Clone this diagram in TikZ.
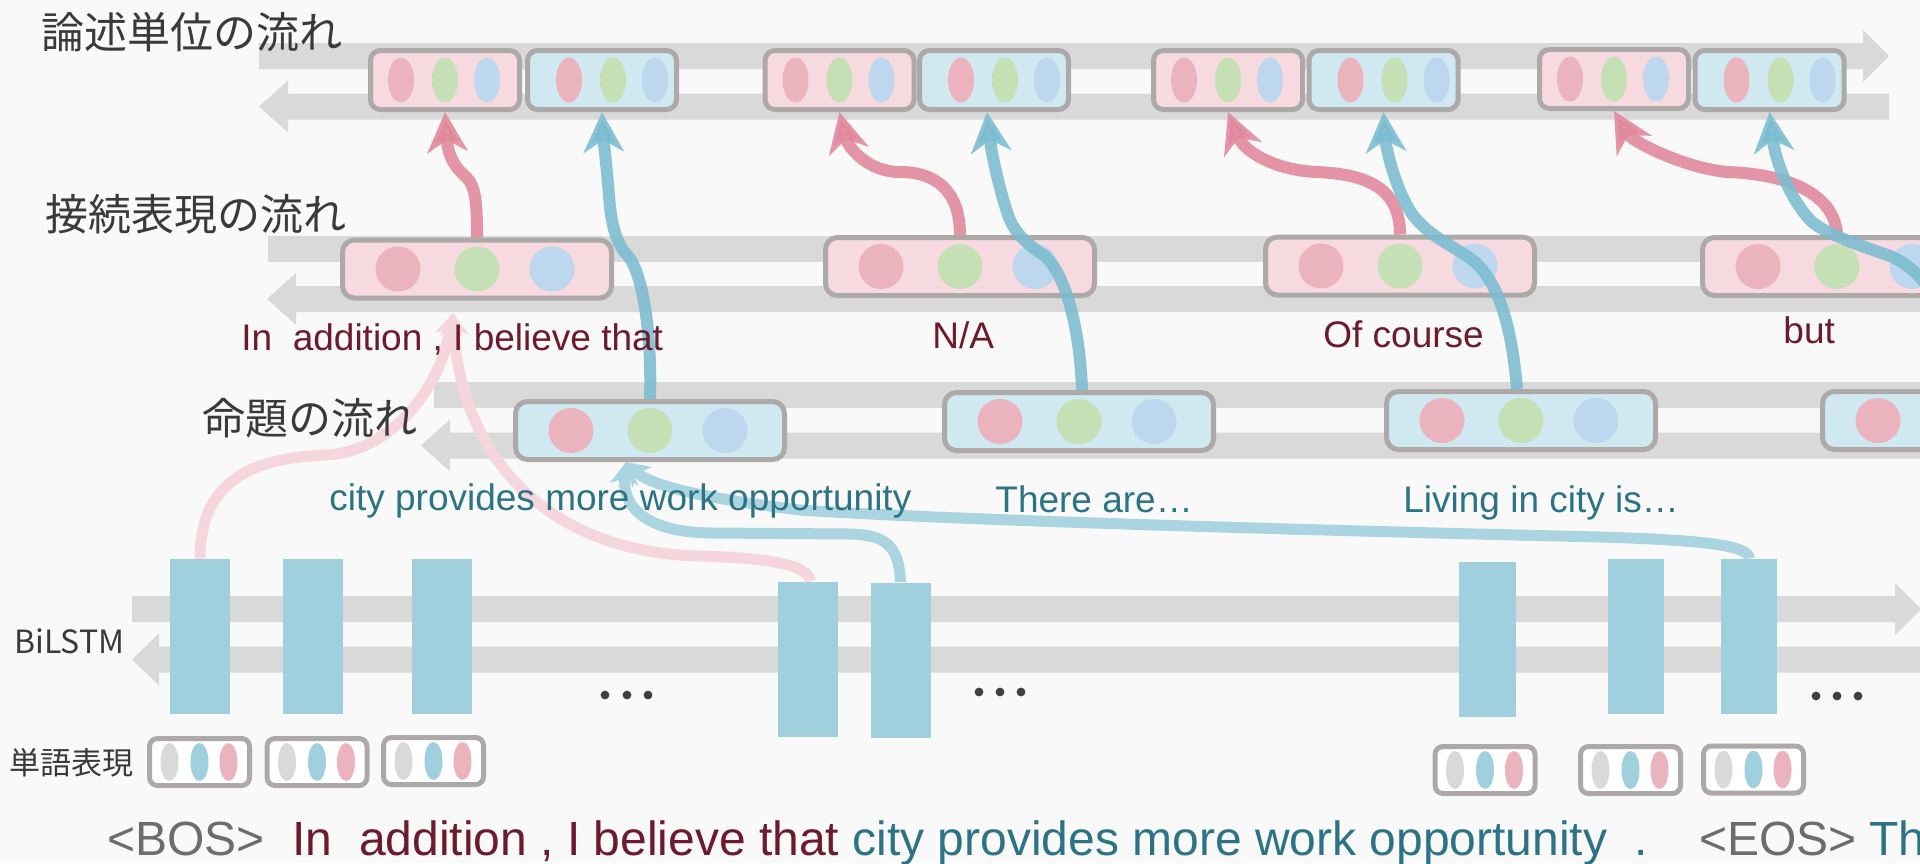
\documentclass[tikz,border=0pt]{standalone}
\usepackage{fontspec}
\setmainfont{Liberation Sans}
\newfontfamily\jpfont{Noto Sans CJK JP}
\usetikzlibrary{arrows.meta,shapes.geometric,calc}

\definecolor{bgc}{RGB}{249,249,249}
\definecolor{band}{RGB}{217,217,217}
\definecolor{bord}{RGB}{173,169,169}
\definecolor{boxpink}{RGB}{246,218,223}
\definecolor{boxblue}{RGB}{208,232,239}
\definecolor{elpink}{RGB}{235,179,190}
\definecolor{elgreen}{RGB}{197,224,180}
\definecolor{elblue}{RGB}{189,215,238}
\definecolor{elgrey}{RGB}{217,217,217}
\definecolor{elteal}{RGB}{160,208,222}
\definecolor{lstm}{RGB}{160,208,222}
\definecolor{arpink}{RGB}{224,136,156}
\definecolor{arblue}{RGB}{122,188,208}
\definecolor{lipink}{RGB}{246,214,221}
\definecolor{liblue}{RGB}{170,213,224}
\definecolor{txred}{RGB}{108,26,44}
\definecolor{txteal}{RGB}{44,116,133}
\definecolor{txgrey}{RGB}{112,108,108}
\definecolor{txdark}{RGB}{58,58,58}
\definecolor{dotc}{RGB}{64,64,64}

\tikzset{
  tbox/.style={draw=bord, line width=2.5pt, rounded corners=5pt, minimum width=74.5pt, minimum height=29.5pt, inner sep=0pt},
  midb/.style={draw=bord, line width=2.5pt, rounded corners=6pt, minimum width=134.5pt, minimum height=29pt, inner sep=0pt},
  wbox/.style={draw=bord, line width=2.5pt, rounded corners=4pt, fill=white, minimum width=50pt, minimum height=23.5pt, inner sep=0pt},
  tell/.style={ellipse, draw=none, inner sep=0pt, minimum width=13pt, minimum height=22.5pt},
  mcirc/.style={ellipse, draw=none, inner sep=0pt, minimum width=22.5pt, minimum height=22.5pt},
  well/.style={ellipse, draw=none, inner sep=0pt, minimum width=9pt, minimum height=19pt},
  lstmblock/.style={fill=lstm, draw=none, inner sep=0pt, minimum height=77.5pt},
  darrow/.style={line width=6pt, opacity=0.88, -{Stealth[length=20pt,width=20pt,inset=6pt]}},
  larrow/.style={line width=5.5pt, -{Stealth[length=11pt,width=14pt,inset=3pt]}},
  lab/.style={inner sep=0pt, anchor=base west, font=\fontsize{18.5}{22}\selectfont},
  ttl/.style={inner sep=0pt, anchor=west, text=txdark, font=\jpfont\fontsize{21.5}{26}\selectfont},
  big/.style={inner sep=0pt, anchor=base west, font=\fontsize{24}{28}\selectfont},
}

\newcommand\fwdband[4]{\fill[band] (#1,#4-13) -- (#2,#4-13) -- (#2,#4-26) -- (#3,#4) -- (#2,#4+26) -- (#2,#4+13) -- (#1,#4+13) -- cycle;}
\newcommand\backband[4]{\fill[band] (#3,#4-13) -- (#2,#4-13) -- (#2,#4-26) -- (#1,#4) -- (#2,#4+26) -- (#2,#4+13) -- (#3,#4+13) -- cycle;}
\newcommand\plainband[3]{\fill[band] (#1,#3-13) rectangle (#2,#3+13);}

\newcommand\tpink[3]{\node[tbox, fill=boxpink] (#1) at (#2,#3) {};
  \node[tell, fill=elpink] (#1-a) at (#2-44,#3) {};
  \node[tell, fill=elgreen] (#1-b) at (#2,#3) {};
  \node[tell, fill=elblue] (#1-c) at (#2+42,#3) {};}
\newcommand\tblue[3]{\node[tbox, fill=boxblue] (#1) at (#2,#3) {};
  \node[tell, fill=elpink] (#1-a) at (#2-33,#3) {};
  \node[tell, fill=elgreen] (#1-b) at (#2+11,#3) {};
  \node[tell, fill=elblue] (#1-c) at (#2+53,#3) {};}
\newcommand\midbox[4]{\node[midb, fill=#4] (#1) at (#2,#3) {};
  \node[mcirc, fill=elpink] (#1-a) at (#2-79,#3) {};
  \node[mcirc, fill=elgreen] (#1-b) at (#2,#3) {};
  \node[mcirc, fill=elblue] (#1-c) at (#2+75,#3) {};}
\newcommand\wordbox[3]{\node[wbox] (#1) at (#2,#3) {};
  \node[well, fill=elgrey] (#1-a) at (#2-30,#3) {};
  \node[well, fill=elteal] (#1-b) at (#2,#3) {};
  \node[well, fill=elpink] (#1-c) at (#2+29,#3) {};}

\begin{document}
\begin{tikzpicture}[x=0.5pt, y=-0.5pt]
\useasboundingbox (0,0) rectangle (1920,863);
\fill[bgc] (0,0) rectangle (1920,863);
\clip (0,0) rectangle (1920,863);

% ---- grey flow bands ----
\fwdband{259}{1863}{1889}{56}
\backband{259}{288}{1889}{106.5}
\plainband{268}{2000}{248.5}
\backband{267}{296}{2000}{299}
\plainband{434}{2000}{395}
\backband{421}{450}{2000}{445.5}
\fwdband{132}{1895}{1921}{609}
\backband{132}{159}{2000}{659.5}

% ---- BiLSTM blocks ----
\node[lstmblock, minimum width=30pt] (b1) at (200,636.5) {};
\node[lstmblock, minimum width=30pt] (b2) at (312.5,636.5) {};
\node[lstmblock, minimum width=30pt] (b3) at (441.5,636.5) {};
\node[lstmblock, minimum width=30pt] (b4) at (807.5,659) {};
\node[lstmblock, minimum width=30pt] (b5) at (900.5,660) {};
\node[lstmblock, minimum width=28.5pt] (b6) at (1487.5,639.5) {};
\node[lstmblock, minimum width=28pt] (b7) at (1636,636.5) {};
\node[lstmblock, minimum width=28pt] (b8) at (1749,636.5) {};

% ---- dots ----
\foreach \x in {605,627,648}{\fill[dotc] (\x,695) circle[radius=2.2pt];}
\foreach \x in {979,1000,1021}{\fill[dotc] (\x,692) circle[radius=2.2pt];}
\foreach \x in {1816,1837,1858}{\fill[dotc] (\x,696) circle[radius=2.2pt];}

% ---- word representation boxes ----
\wordbox{w1}{199.5}{762}
\wordbox{w2}{317}{762}
\wordbox{w3}{433.5}{761}
\wordbox{w4}{1485}{770}
\wordbox{w5}{1630.5}{770}
\wordbox{w6}{1753.5}{769.5}

% ---- top row boxes ----
\tpink{t1p}{445}{80}
\tblue{t1b}{602}{80}
\tpink{t2p}{839.5}{80}
\tblue{t2b}{994}{80}
\tpink{t3p}{1228}{80}
\tblue{t3b}{1383.5}{80}
\tpink{t4p}{1614}{79}
\tblue{t4b}{1769.5}{80}

% ---- connective row ----
\midbox{c1}{477}{269}{boxpink}
\midbox{c2}{960}{266.5}{boxpink}
\midbox{c3}{1400}{266}{boxpink}
\midbox{c4}{1837}{266.5}{boxpink}

% ---- proposition row ----
\midbox{p1}{650}{430.5}{boxblue}
\midbox{p2}{1079}{421.5}{boxblue}
\midbox{p3}{1521}{420.5}{boxblue}
\midbox{p4}{1957}{420.5}{boxblue}

% ---- light connectors from BiLSTM ----
\coordinate (cin) at (453,313);
\coordinate (pin) at (626,462);
\draw[larrow, lipink] (b1.north) .. controls (200,490) and (240,458) .. (326,455) .. controls (390,452) and (440,390) .. (cin);
\draw[larrow, lipink] ($(b4.north)+(3,0)$) .. controls (808,565) and (770,558) .. (700,556) .. controls (540,552) and (460,450) .. (cin);
\draw[larrow, liblue] (b5.north) .. controls (899,545) and (885,535) .. (850,534) -- (710,533) .. controls (650,532) and (622,510) .. (pin);
\draw[larrow, liblue] (b8.north) .. controls (1750,545) and (1700,540) .. (1600,537) .. controls (1300,530) and (950,520) .. (800,510) .. controls (700,498) and (650,485) .. (pin);

% ---- dark connectors to top row ----
\draw[darrow, arpink] (c1.north) .. controls (477,205) and (476,186) .. (466,177) .. controls (456,168) and (448,158) .. (t1p.south);
\draw[darrow, arblue] (p1.north) .. controls (652,330) and (642,272) .. (628,256) .. controls (618,246) and (611,228) .. (609,195) .. controls (606,160) and (603,135) .. (t1b.south);
\draw[darrow, arpink] (c2.north) .. controls (960,190) and (935,172) .. (900,172) .. controls (868,172) and (848,148) .. (t2p.south);
\draw[darrow, arblue] ($(p2.north)+(3,0)$) .. controls (1080,330) and (1066,275) .. (1045,256) .. controls (1030,246) and (1015,235) .. (1008,215) .. controls (998,185) and (991,150) .. ($(t2b.south)+(-7,0)$);
\draw[darrow, arpink] (c3.north) .. controls (1400,190) and (1370,174) .. (1316,172) .. controls (1275,170) and (1244,152) .. (t3p.south);
\draw[darrow, arblue] ($(p3.north)+(-4,0)$) .. controls (1512,330) and (1500,285) .. (1475,262) .. controls (1455,246) and (1430,238) .. (1412,214) .. controls (1396,190) and (1386,150) .. (t3b.south);
\draw[darrow, arpink] (c4.north) .. controls (1835,195) and (1790,174) .. (1727,172) .. controls (1685,168) and (1632,142) .. (t4p.south);
\draw[darrow, arblue] (p4.north) .. controls (1955,330) and (1935,275) .. (1890,256) .. controls (1862,246) and (1830,236) .. (1812,222) .. controls (1790,200) and (1775,160) .. (t4b.south);

% ---- titles ----
\node[ttl] (h1) at (41,32) {論述単位の流れ};
\node[ttl] (h2) at (45,214) {接続表現の流れ};
\node[ttl] (h3) at (202,418) {命題の流れ};
\node[inner sep=0pt, anchor=west, text=txdark, font=\jpfont\fontsize{16}{19}\selectfont] (h4) at (14,641) {BiLSTM};
\node[inner sep=0pt, anchor=west, text=txdark, font=\jpfont\fontsize{15.5}{19}\selectfont] (h5) at (9,763) {単語表現};

% ---- span labels ----
\node[lab, text=txred] (l1) at (241,350) {In~~addition , I believe that};
\node[lab, text=txred] (l2) at (932,348) {N/A};
\node[lab, text=txred] (l3) at (1323,347) {Of course};
\node[lab, text=txred] (l4) at (1783,343) {but};
\node[lab, text=txteal] (l5) at (329,510) {city provides more work opportunity};
\node[lab, text=txteal] (l6) at (995,512) {There are…};
\node[lab, text=txteal] (l7) at (1403,512) {Living in city is…};

% ---- input sentence ----
\node[big, text=txgrey] (s1) at (107,855) {<BOS>};
\node[big, text=txred] (s2) at (292,855) {In~~addition , I believe that};
\node[big, text=txteal] (s3) at (852,855) {city provides more work opportunity};
\node[big, text=txteal] (s4) at (1634,855) {.};
\node[big, text=txgrey] (s5) at (1699,855) {<EOS>};
\node[big, text=txteal] (s6) at (1869,855) {Th};
\end{tikzpicture}
\end{document}
